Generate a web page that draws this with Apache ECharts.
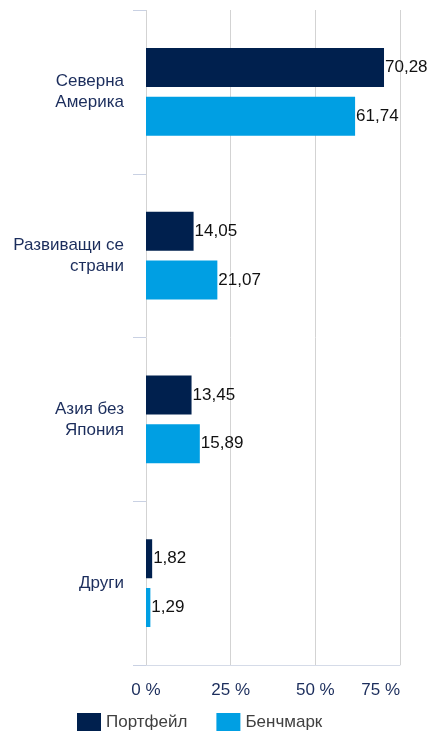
<!DOCTYPE html>
<html>
<head>
<meta charset="utf-8">
<script src="https://cdn.jsdelivr.net/npm/echarts@6/dist/echarts.min.js"></script>
<style>
  html, body { margin: 0; padding: 0; background: #fff; }
  #chart { width: 430px; height: 731px; }
</style>
</head>
<body>
<div id="chart"></div>
<script>
// regions (top to bottom)
const categories = ['Северна\nАмерика', 'Развиващи се\nстрани', 'Азия без\nЯпония', 'Други']
const seriesNames = ['Портфейл', 'Бенчмарк']
const portfolio = [70.28, 14.05, 13.45, 1.82]
const benchmark = [61.74, 21.07, 15.89, 1.29]
const xTicks = [0, 25, 50, 75]

const navy = '#00204e'
const blue = '#009fe3'
const labelColor = '#1b2d5c'

const chart = echarts.init(document.getElementById('chart'))

const fmt = p => p.value.toFixed(2).replace('.', ',')

chart.setOption({
  animation: false,
  textStyle: { fontFamily: 'Liberation Sans, Arial, sans-serif' },
  grid: { left: 146, right: 30, top: 10, bottom: 66 },
  legend: {
    data: seriesNames,
    left: 77,
    top: 713,
    padding: 0,
    itemWidth: 24,
    itemHeight: 18,
    itemGap: 29,
    icon: 'rect',
    textStyle: { fontSize: 17, color: '#404040' }
  },
  xAxis: {
    type: 'value',
    min: xTicks[0],
    max: xTicks[xTicks.length - 1],
    interval: 25,
    axisLine: { show: true, lineStyle: { color: '#d5dbe8' } },
    axisTick: { show: false },
    splitLine: { lineStyle: { color: '#d3d3d3' } },
    axisLabel: {
      formatter: '{value} %',
      fontSize: 17,
      color: labelColor,
      margin: 17,
      alignMaxLabel: 'right'
    }
  },
  yAxis: {
    type: 'category',
    inverse: true,
    data: categories,
    axisLine: { show: false },
    axisTick: { show: true, length: 13, lineStyle: { color: '#c9d1e3' } },
    axisLabel: {
      fontSize: 17,
      lineHeight: 21,
      color: labelColor,
      margin: 22
    }
  },
  series: [
    {
      name: seriesNames[0],
      type: 'bar',
      data: portfolio,
      barWidth: 39,
      barGap: '25%',
      itemStyle: { color: navy },
      label: { show: true, position: 'right', distance: 1, fontSize: 17, color: '#111', formatter: fmt }
    },
    {
      name: seriesNames[1],
      type: 'bar',
      data: benchmark,
      barWidth: 39,
      barGap: '25%',
      itemStyle: { color: blue },
      label: { show: true, position: 'right', distance: 1, fontSize: 17, color: '#111', formatter: fmt }
    }
  ]
})
</script>
</body>
</html>
